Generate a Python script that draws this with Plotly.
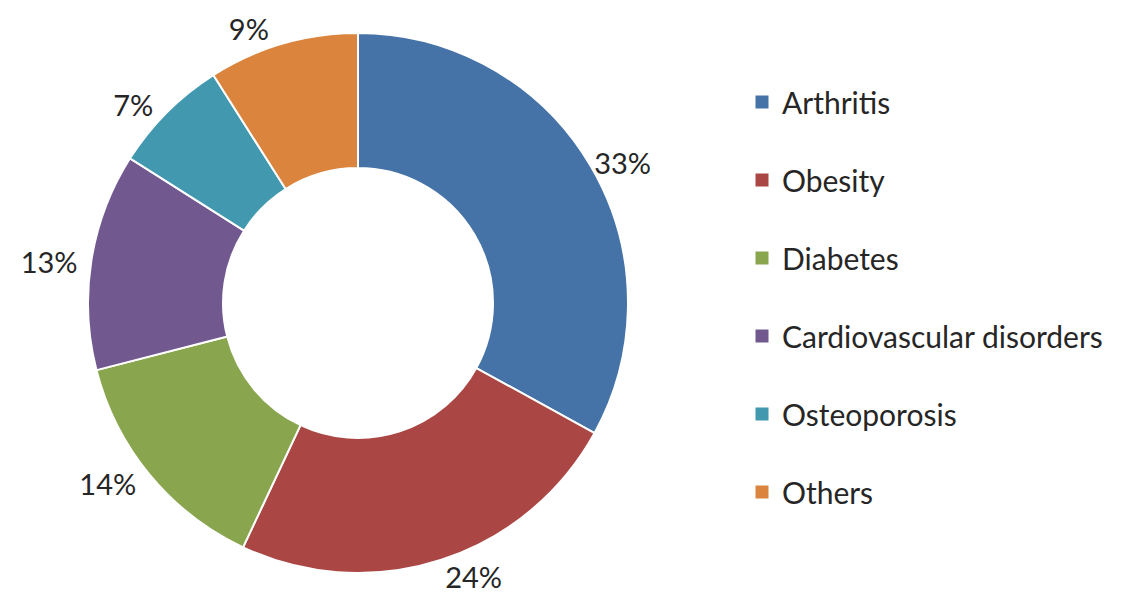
import plotly.graph_objects as go

categories = ["Arthritis", "Obesity", "Diabetes", "Cardiovascular disorders", "Osteoporosis", "Others"]
values = [33, 24, 14, 13, 7, 9]
colors = ["#4572A7", "#AA4643", "#89A54E", "#71588F", "#4198AF", "#DB843D"]

W, H = 1122, 594
FONT = "Lato"
CX, CY = 350, 295      # donut centre (px)
LX, LY = 345, 296      # centre of the label ring (px)
R, RL = 270, 270       # donut radius, label ring radius

def dom(cx, cy, r):
    return dict(x=[(cx - r) / W, (cx + r) / W], y=[1 - (cy + r) / H, 1 - (cy - r) / H])

fig = go.Figure()
fig.add_trace(go.Pie(
    labels=categories, values=values, sort=False, direction="clockwise", rotation=0,
    hole=0.5, marker=dict(colors=colors, line=dict(color="white", width=2)),
    textinfo="none", showlegend=False, domain=dom(CX, CY, R),
))
fig.add_trace(go.Pie(
    labels=categories, values=values, sort=False, direction="clockwise", rotation=0,
    hole=0.9, marker=dict(colors=["rgba(0,0,0,0)"] * len(values), line=dict(width=0)),
    texttemplate="%{percent:.0%}", textposition="outside",
    textfont=dict(size=29, color="#262626", family=FONT),
    showlegend=False, hoverinfo="skip", domain=dom(LX, LY, RL),
))
for i, (c, col) in enumerate(zip(categories, colors)):
    fig.add_trace(go.Scatter(
        x=[None], y=[None], mode="markers", name=c, legendgroup=f"g{i}",
        marker=dict(symbol="square", size=13, color=col),
    ))

fig.update_layout(
    width=W, height=H, margin=dict(l=0, r=0, t=0, b=0, autoexpand=False),
    paper_bgcolor="white", plot_bgcolor="white",
    xaxis=dict(visible=False), yaxis=dict(visible=False),
    legend=dict(x=734 / W, y=1 - 68 / H, xanchor="left", yanchor="top",
                font=dict(size=30, color="#262626", family=FONT),
                tracegroupgap=36, itemwidth=30),
    font=dict(family=FONT),
)
fig.write_html("out.html")
